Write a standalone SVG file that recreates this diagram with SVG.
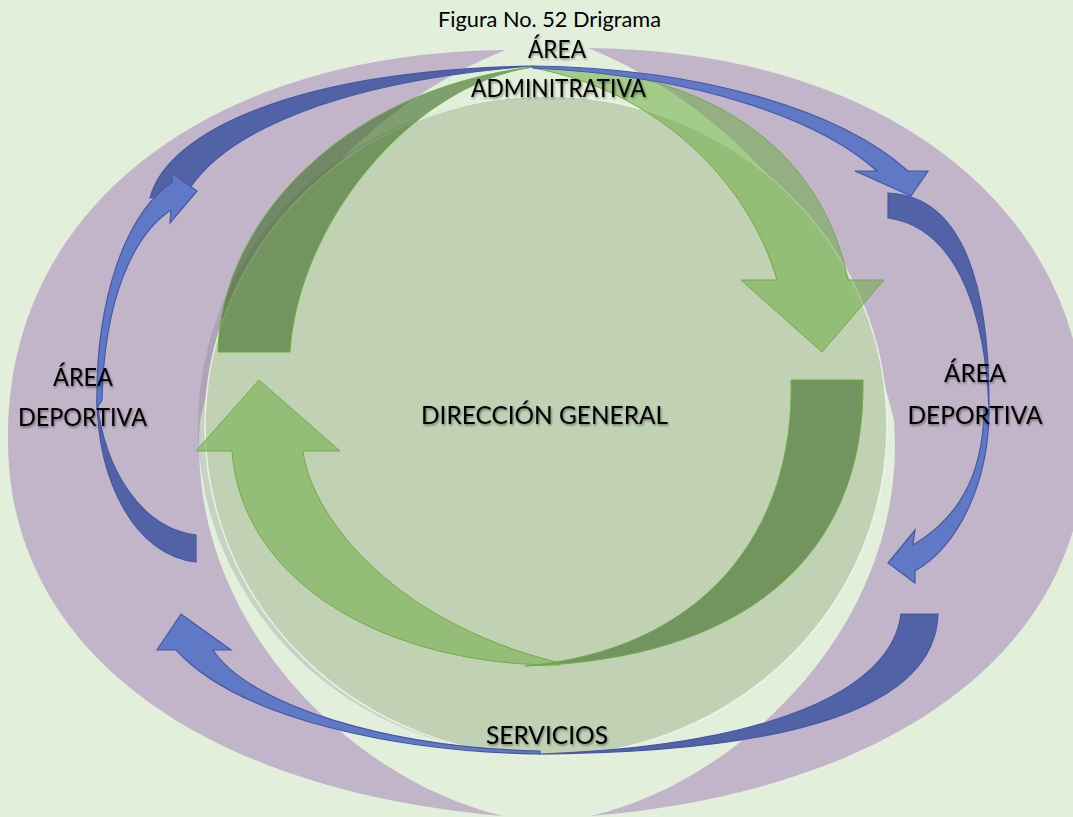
<svg xmlns="http://www.w3.org/2000/svg" width="1073" height="817" viewBox="0 0 1073 817">
<defs>
<style>
.bg{fill:#E2EFDA}
.purple{fill:#C2B4C9}
.gdark{fill:#3D6B27;fill-opacity:.6;stroke:#70AD47;stroke-width:1}
.glight{fill:#70AD47;fill-opacity:.55;stroke:#70AD47;stroke-width:1}
.bdark{fill:#5262A7;stroke:#4658A5;stroke-width:1.2}
.blight{fill:#6079C6;stroke:#4658A5;stroke-width:1.2}
.lbl{font-family:Lato,"Open Sans","Liberation Sans",sans-serif;font-size:25px;fill:#000;text-anchor:middle}
.title{font-family:Lato,"Open Sans","Liberation Sans",sans-serif;font-size:21px;fill:#000;text-anchor:middle}
</style>
<filter id="sh" x="-10%" y="-30%" width="120%" height="160%">
<feDropShadow dx="1" dy="1.5" stdDeviation="1.2" flood-color="#000" flood-opacity=".45"/>
</filter>
</defs>
<rect class="bg" x="0" y="0" width="1073" height="817"/>
<g id="crescent-left">
<path class="purple" d="M 506,50 C 220,52 6,200 8,440 C 8,650 200,790 503,816 C 350,780 185,620 200,420 C 250,210 390,95 506,50 Z"/>
</g>
<g id="crescent-right">
<path class="purple" d="M 588,48 C 874,50 1088,200 1086,440 C 1086,650 894,790 591,816 C 744,780 909,620 894,420 C 844,210 704,95 588,48 Z"/>
</g>
<g id="circle">
<ellipse cx="539" cy="426" rx="341" ry="329" fill="#6E6E78" fill-opacity=".22"/>
<ellipse cx="546" cy="426" rx="341" ry="330" fill="#C1D2B4" stroke="#F4F8F0" stroke-opacity=".8" stroke-width="1.5"/>
</g>
<g id="connectors">
<g id="green-top">
<path class="gdark" d="M 218,352 C 220,225 340,90 533,67 C 410,85 298,225 290,352 Z"/>
<path class="glight" d="M 533,67 C 695,66 820,140 848,280 L 884,280 L 822,352 L 741,280 L 777,280 C 748,180 655,90 533,68 Z"/>
</g>
<g id="green-bottom">
<path class="gdark" d="M 863,380 C 866,560 740,660 525,666 C 705,650 795,530 791,380 Z"/>
<path class="glight" d="M 560,665 C 390,666 242,585 232,451 L 196,451 L 259,380 L 340,451 L 303,451 C 310,510 385,620 560,663 Z"/>
</g>
<g id="blue-dark">
<path class="bdark" d="M 150,198 C 168,130 300,70 533,66 C 330,82 225,135 190,188 Z"/>
<path class="bdark" d="M 888,193 C 965,196 990,290 989,410 C 986,320 960,228 888,218 Z"/>
<path class="bdark" d="M 196,562 C 134,555 98,480 97,400 C 104,468 140,528 196,535 Z"/>
<path class="bdark" d="M 938,614 C 935,705 800,752 540,754 C 770,746 892,690 901,614 Z"/>
</g>
<g id="blue-light">
<path class="blight" d="M 533,66 C 700,68 840,110 908,171 L 928,171 L 911,196 L 855,171 L 877,171 C 820,120 700,76 533,68 Z"/>
<path class="blight" d="M 989,410 C 989,480 960,545 915,571 L 915,583 L 888,563 L 915,530 L 913,545 C 955,520 983,480 984,410 Z"/>
<path class="blight" d="M 97,408 C 95,300 125,215 172,182 L 172,173 L 197,191 L 170,223 L 171,210 C 133,235 104,300 102,400 Z"/>
<path class="blight" d="M 540,754 C 400,752 240,720 176,650 L 157,650 L 181,614 L 231,650 L 213,650 C 250,706 390,748 540,751 Z"/>
</g>
</g>
<g id="title"><text class="title" x="549.5" y="27" textLength="223" lengthAdjust="spacingAndGlyphs">Figura No. 52 Drigrama</text></g>
<g id="node-admin" filter="url(#sh)">
<text class="lbl" x="557" y="58" textLength="58" lengthAdjust="spacingAndGlyphs">ÁREA</text>
<text class="lbl" x="558.5" y="97" textLength="175" lengthAdjust="spacingAndGlyphs">ADMINITRATIVA</text>
</g>
<g id="node-deportiva-left" filter="url(#sh)">
<text class="lbl" x="83" y="386" textLength="60" lengthAdjust="spacingAndGlyphs">ÁREA</text>
<text class="lbl" x="82.5" y="426" textLength="129" lengthAdjust="spacingAndGlyphs">DEPORTIVA</text>
</g>
<g id="node-deportiva-right" filter="url(#sh)">
<text class="lbl" x="975" y="382" textLength="62" lengthAdjust="spacingAndGlyphs">ÁREA</text>
<text class="lbl" x="975" y="424" textLength="135" lengthAdjust="spacingAndGlyphs">DEPORTIVA</text>
</g>
<g id="node-direccion" filter="url(#sh)">
<text class="lbl" x="544.5" y="424" textLength="247" lengthAdjust="spacingAndGlyphs">DIRECCIÓN GENERAL</text>
</g>
<g id="node-servicios" filter="url(#sh)">
<text class="lbl" x="547" y="744" textLength="122" lengthAdjust="spacingAndGlyphs">SERVICIOS</text>
</g>
</svg>
